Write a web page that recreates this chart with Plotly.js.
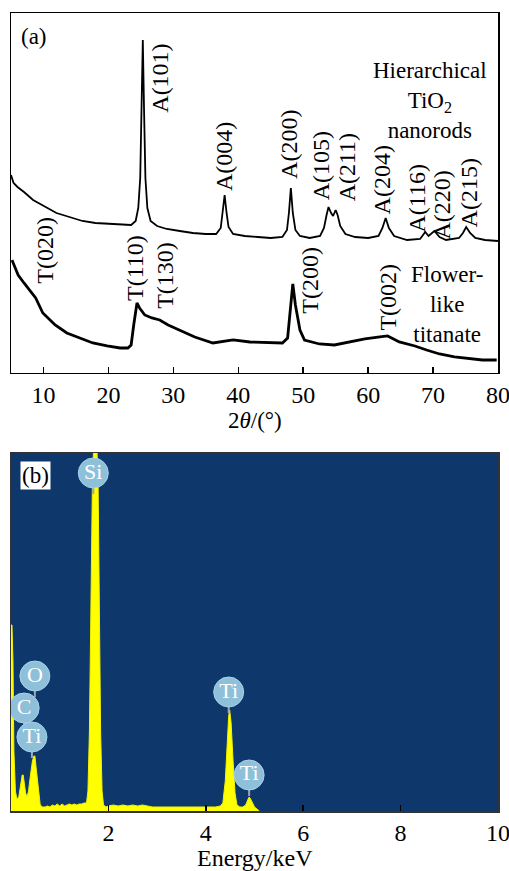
<!DOCTYPE html>
<html><head><meta charset="utf-8">
<script src="https://cdn.plot.ly/plotly-3.0.1.min.js"></script>
<style>html,body{margin:0;padding:0;background:#fff}</style>
</head><body><div id="chart" style="width:509px;height:871px"></div>
<script>
// ---- Panel (a): XRD ----
const anataseTheta = [5.0,5.4,6.0,7.0,8.4,10,12,14,16,18,20,22,23.5,24.2,24.6,24.9,25.1,25.3,25.5,25.7,26.0,26.5,27.5,29,31,33,35,36.6,37.3,37.6,37.9,38.2,38.5,39.2,41,43,45,46.8,47.5,47.8,48.1,48.4,48.8,49.5,51,52.6,53.2,53.6,53.9,54.3,54.6,55.0,55.3,55.7,56.5,58,60,61.6,62.2,62.7,63.2,64,66,68,68.8,69.3,70.2,71,72,74,74.6,75.1,75.7,76.5,78,80];
const anataseI = [198,190,186,181,173,167,160,156,152,150,149,148,148,152,165,195,260,333,260,195,165,152,147,144,142,140,139,139,145,160,178,160,146,139,137,136,135,136,143,160,185,160,143,137,135,137,145,158,166,160,157,163,158,147,139,136,135,137,145,155,145,137,133,134,141,137,142,136,133,135,140,146,140,135,133,132];
const titanateTheta = [5.15,6.1,7.0,7.9,8.8,9.9,11.8,13.6,15.6,17.6,19.8,21.8,23.0,23.5,23.9,24.4,24.8,25.6,26.7,27.9,29.2,31,33.3,36.1,37.9,39.2,41.8,44.8,46.8,47.6,48.1,48.4,48.8,49.5,50.2,52.5,54.8,57.2,59.5,61.8,63.0,64.8,67.2,69.0,71,73.3,75.6,77.6,79.8];
const titanateI = [113,98,90,83,75,60,48,40,35,30,27,25,25,28,48,70,65,58,55,53,48,43,36,30,32,33,31,30,30,35,73,89,68,43,33,29,28,31,34,36,37,31,27,23,19,16,14,13,13];
const peakLabels = ['A(101)','A(004)','A(200)','A(105)','A(211)','A(204)','A(116)','A(220)','A(215)','T(020)','T(110)','T(130)','T(200)','T(002)'];
const peakLabelTheta = [27.9,37.8,47.8,52.8,56.8,62.2,67.6,71.3,75.6,10.2,24.1,28.7,51.0,63.0];
const peakLabelI = [295,217,229,207,206,193,175,168,180,123,105,98,93,76];
const sampleNames = ['Hierarchical<br>TiO<sub>2</sub><br>nanorods','Flower-<br>like<br>titanate'];
const sampleNameTheta = [69.5,72.2];
const sampleNameI = [272,68];

// ---- Panel (b): EDS ----
const edsEnergy = [0,0.02,0.04,0.06,0.09,0.12,0.16,0.2,0.23,0.25,0.27,0.3,0.33,0.36,0.4,0.44,0.47,0.49,0.51,0.54,0.57,0.6,0.65,0.7,0.75,0.8,0.85,0.9,0.95,1.0,1.05,1.1,1.15,1.2,1.25,1.3,1.35,1.4,1.45,1.5,1.55,1.58,1.61,1.64,1.67,1.7,1.73,1.76,1.79,1.81,1.84,1.87,1.9,1.95,2.0,2.1,2.2,2.3,2.4,2.5,2.6,2.7,2.8,2.9,3.0,3.2,3.4,3.6,3.8,4.0,4.2,4.3,4.35,4.4,4.44,4.47,4.49,4.52,4.56,4.6,4.64,4.7,4.76,4.82,4.86,4.89,4.92,4.96,5.0,5.05,5.1];
const edsCounts = [186,186,150,60,20,12,14,28,36,36,30,18,14,20,36,50,55,55,46,30,15,6,4,4,5,4,6,5,7,5,7,5,6,7,6,7,6,7,7,8,8,20,80,186,321,370,370,370,321,186,80,20,6,4,5,6,5,6,5,6,5,6,5,4,4,4,4,4,4,4,4,5,8,30,70,95,101,88,50,18,6,4,4,6,11,14,12,7,4,2,0];
const edsPeakNames = ['Si','O','C','Ti','Ti','Ti'];
const edsLabelEnergy = [1.69,0.49,0.27,0.43,4.47,4.89];
const edsLabelCounts = [338,135,103,74,119,36];

const serif = '"Liberation Serif", "Times New Roman", serif';

const stemX = [], stemY = [];
edsLabelEnergy.forEach((e,i)=>{ stemX.push(e,e,null); stemY.push(edsLabelCounts[i]-14, edsLabelCounts[i]-21, null); });

const traces = [
  {x: anataseTheta, y: anataseI, xaxis:'x', yaxis:'y', mode:'lines', line:{color:'#000', width:1.8}, hoverinfo:'skip'},
  {x: titanateTheta, y: titanateI, xaxis:'x', yaxis:'y', mode:'lines', line:{color:'#000', width:2.8}, hoverinfo:'skip'},
  {x: edsEnergy, y: edsCounts, xaxis:'x2', yaxis:'y2', mode:'lines', fill:'tozeroy', fillcolor:'#ffff00', line:{color:'#f2f200', width:1}, hoverinfo:'skip'},
  {x: stemX, y: stemY, xaxis:'x2', yaxis:'y2', mode:'lines', line:{color:'#9aa6b4', width:2}, hoverinfo:'skip'},
  {x: edsLabelEnergy, y: edsLabelCounts, xaxis:'x2', yaxis:'y2', mode:'markers+text', text: edsPeakNames,
   textposition:'middle center', textfont:{family:serif, size:22, color:'#ffffff'},
   marker:{size:30, color:'#8fc0da', line:{color:'#a9d2e8', width:1}}, hoverinfo:'skip'}
];

const annotations = [];
peakLabels.forEach((t,i)=>annotations.push({x:peakLabelTheta[i], y:peakLabelI[i], xref:'x', yref:'y', text:t, textangle:-90, showarrow:false, xanchor:'center', yanchor:'middle', font:{family:serif, size:24, color:'#000'}}));
sampleNames.forEach((t,i)=>annotations.push({x:sampleNameTheta[i], y:sampleNameI[i], xref:'x', yref:'y', text:t, showarrow:false, align:'center', xanchor:'center', yanchor:'middle', font:{family:serif, size:23, color:'#000'}}));
annotations.push({x:8.54, y:337, xref:'x', yref:'y', text:'(a)', showarrow:false, xanchor:'center', yanchor:'middle', font:{family:serif, size:23, color:'#000'}});
annotations.push({x:0.505, y:336, xref:'x2', yref:'y2', text:'(b)', showarrow:false, xanchor:'center', yanchor:'middle', bgcolor:'#ffffff', borderpad:1, font:{family:serif, size:23, color:'#000'}});
annotations.push({x:0.5, y:0.489, xref:'paper', yref:'paper', text:'2<i>θ</i>/(°)', showarrow:false, xanchor:'center', yanchor:'middle', font:{family:serif, size:23, color:'#000'}});
annotations.push({x:0.5, y:-0.059, xref:'paper', yref:'paper', text:'Energy/keV', showarrow:false, xanchor:'center', yanchor:'middle', font:{family:serif, size:24, color:'#000'}});

const axBase = {showgrid:false, zeroline:false, showline:true, mirror:true, linecolor:'#000', linewidth:1.5,
  ticks:'inside', ticklen:6, tickwidth:1.5, tickcolor:'#000', ticklabeloverflow:'allow',
  tickfont:{family:serif, size:24, color:'#000'}};

const layout = {
  width:509, height:871, margin:{l:11, r:11, t:13, b:60},
  paper_bgcolor:'#ffffff', plot_bgcolor:'#ffffff', showlegend:false,
  xaxis: Object.assign({}, axBase, {anchor:'y', domain:[0,1], range:[5,80], tickvals:[10,20,30,40,50,60,70,80]}),
  yaxis: Object.assign({}, axBase, {anchor:'x', domain:[0.5489,1], range:[0,360], ticks:'', showticklabels:false}),
  xaxis2: Object.assign({}, axBase, {anchor:'y2', domain:[0,1], range:[0,10], tickvals:[2,4,6,8,10], linecolor:'#333'}),
  yaxis2: Object.assign({}, axBase, {anchor:'x2', domain:[0,0.4486], range:[0,358], ticks:'', showticklabels:false, linecolor:'#333'}),
  shapes:[{type:'rect', xref:'x2 domain', yref:'y2 domain', x0:0, x1:1, y0:0, y1:1, fillcolor:'#0e376c', line:{width:0}, layer:'below'}],
  annotations: annotations
};

Plotly.newPlot('chart', traces, layout, {displayModeBar:false, staticPlot:true});
</script></body></html>
